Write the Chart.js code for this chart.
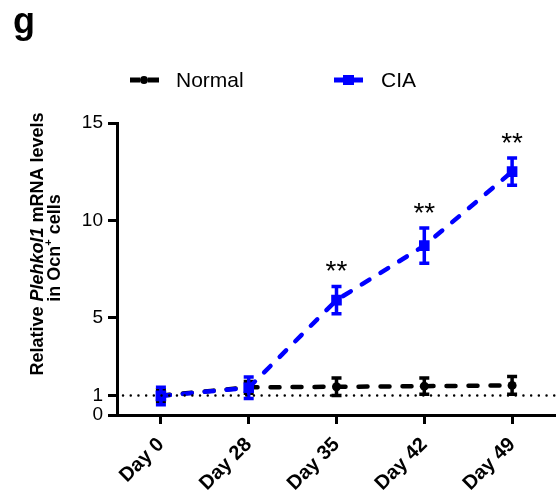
<!DOCTYPE html>
<html><head><meta charset="utf-8">
<script src="https://cdn.jsdelivr.net/npm/chart.js@4"></script>
<style>html,body{margin:0;padding:0;background:#fff}</style>
</head><body>
<div style="width:556px;height:503px"><canvas id="c" width="556" height="503"></canvas></div>
<script>
const categories = ['Day 0', 'Day 28', 'Day 35', 'Day 42', 'Day 49'];
const normalMean = [1.0, 1.42, 1.45, 1.48, 1.52];
const normalErr = [0.3, 0.3, 0.45, 0.42, 0.46];
const ciaMean = [0.98, 1.4, 5.9, 8.7, 12.5];
const ciaErr = [0.45, 0.55, 0.7, 0.9, 0.7];
const ciaStars = ['', '', '**', '**', '**'];
const yTicks = [0, 1, 5, 10, 15];
const referenceLevel = 1;
const panelLetter = 'g';
const seriesNames = ['Normal', 'CIA'];

const FONT = '"Liberation Sans", Arial, sans-serif';
const errData = [normalErr, ciaErr];
const meanData = [normalMean, ciaMean];

const extrasPlugin = {
  id: 'extras',
  afterLayout(chart) {
    // let the x axis run to the right edge of the canvas
    const xs = chart.scales.x;
    const right = chart.width;
    xs.right = right;
    xs.width = right - xs.left;
    chart.chartArea.right = right;
    chart.chartArea.width = right - chart.chartArea.left;
    xs.configure();
  },
  afterDatasetDraw(chart, args) {
    const ctx = chart.ctx;
    const ys = chart.scales.y;
    const meta = args.meta;
    const i = args.index;
    const color = chart.data.datasets[i].borderColor;
    ctx.save();
    ctx.strokeStyle = color;
    ctx.lineWidth = 3.5;
    meta.data.forEach((pt, k) => {
      const m = meanData[i][k], e = errData[i][k];
      const yt = ys.getPixelForValue(m + e), yb = ys.getPixelForValue(m - e);
      ctx.beginPath();
      ctx.moveTo(pt.x, yt); ctx.lineTo(pt.x, yb);
      ctx.moveTo(pt.x - 5, yt); ctx.lineTo(pt.x + 5, yt);
      ctx.moveTo(pt.x - 5, yb); ctx.lineTo(pt.x + 5, yb);
      ctx.stroke();
    });
    ctx.restore();
  },
  afterDatasetsDraw(chart) {
    const ctx = chart.ctx;
    const ys = chart.scales.y;
    const area = chart.chartArea;
    // dotted reference line
    ctx.save();
    ctx.strokeStyle = '#000';
    ctx.lineWidth = 2.4;
    ctx.lineCap = 'round';
    ctx.setLineDash([0.1, 7.6]);
    const yr = ys.getPixelForValue(referenceLevel);
    ctx.beginPath();
    ctx.moveTo(area.left + 6, yr);
    ctx.lineTo(chart.width, yr);
    ctx.stroke();
    ctx.restore();
    // significance stars
    const meta = chart.getDatasetMeta(1);
    ctx.save();
    ctx.fillStyle = '#000';
    ctx.font = '28px ' + FONT;
    ctx.textAlign = 'center';
    ctx.textBaseline = 'middle';
    meta.data.forEach((pt, k) => {
      if (!ciaStars[k]) return;
      const yt = ys.getPixelForValue(ciaMean[k] + ciaErr[k]);
      ctx.fillText(ciaStars[k], pt.x, yt - 14);
    });
    ctx.restore();
  },
  afterDraw(chart) {
    const ctx = chart.ctx;
    ctx.save();
    // panel letter
    ctx.fillStyle = '#000';
    ctx.font = 'bold 36px ' + FONT;
    ctx.textAlign = 'left';
    ctx.textBaseline = 'alphabetic';
    ctx.fillText(panelLetter, 13, 33);
    // legend
    const items = [
      {x: 130, textX: 176, ds: chart.data.datasets[0]},
      {x: 334, textX: 381, ds: chart.data.datasets[1]}
    ];
    const ly = 80;
    items.forEach(it => {
      const c = it.ds.borderColor;
      ctx.strokeStyle = c; ctx.fillStyle = c;
      ctx.lineWidth = 5;
      ctx.lineCap = 'butt';
      ctx.beginPath();
      ctx.moveTo(it.x, ly); ctx.lineTo(it.x + 10, ly);
      ctx.moveTo(it.x + 18, ly); ctx.lineTo(it.x + 29, ly);
      ctx.stroke();
      ctx.beginPath();
      if (it.ds.pointStyle === 'rect') {
        ctx.rect(it.x + 9, ly - 5, 11, 10);
      } else {
        ctx.arc(it.x + 14, ly, 4, 0, Math.PI * 2);
      }
      ctx.fill();
      ctx.fillStyle = '#000';
      ctx.font = '21px ' + FONT;
      ctx.textBaseline = 'middle';
      ctx.fillText(it.ds.label, it.textX, ly + 1);
    });
    // y-axis title
    const lines = [
      {base: 43, cy: 244, parts: [
        {t: 'Relative ', f: 'bold 18px ' + FONT},
        {t: 'Plehkol1', f: 'italic bold 18px ' + FONT},
        {t: ' mRNA levels', f: 'bold 18px ' + FONT}]},
      {base: 60, cy: 248, parts: [
        {t: 'in Ocn', f: 'bold 18px ' + FONT},
        {t: '+', f: 'bold 11px ' + FONT, dy: -8},
        {t: ' cells', f: 'bold 18px ' + FONT}]}
    ];
    ctx.fillStyle = '#000';
    ctx.textBaseline = 'alphabetic';
    lines.forEach(L => {
      let total = 0;
      L.parts.forEach(p => { ctx.font = p.f; p.w = ctx.measureText(p.t).width; total += p.w; });
      ctx.save();
      ctx.translate(L.base, L.cy);
      ctx.rotate(-Math.PI / 2);
      let x = -total / 2;
      L.parts.forEach(p => { ctx.font = p.f; ctx.fillText(p.t, x, p.dy || 0); x += p.w; });
      ctx.restore();
    });
    ctx.restore();
  }
};

new Chart(document.getElementById('c'), {
  type: 'line',
  data: {
    labels: categories,
    datasets: [
      {
        label: seriesNames[0], data: normalMean, order: 1,
        borderColor: '#000000', backgroundColor: '#000000',
        borderWidth: 4.5, borderDash: [9, 13], borderCapStyle: 'round',
        pointStyle: 'circle', pointRadius: 4.5, pointBorderWidth: 0,
        tension: 0
      },
      {
        label: seriesNames[1], data: ciaMean, order: 0,
        borderColor: '#0000ff', backgroundColor: '#0000ff',
        borderWidth: 4.5, borderDash: [9, 13], borderCapStyle: 'round',
        pointStyle: 'rect', pointRadius: 7.5, pointBorderWidth: 0,
        tension: 0
      }
    ]
  },
  options: {
    responsive: false,
    animation: false,
    layout: {padding: {top: 123, right: 0, bottom: 0, left: 0}},
    plugins: {legend: {display: false}, tooltip: {enabled: false}, title: {display: false}},
    scales: {
      x: {
        type: 'category',
        offset: true,
        afterFit(s) { s.height = 88; },
        grid: {drawOnChartArea: false, drawTicks: true, tickLength: 9, tickWidth: 3, tickColor: '#000', offset: false},
        border: {display: true, width: 3, color: '#000'},
        ticks: {color: '#000', font: {family: FONT, size: 20, weight: 'bold'}, minRotation: 45, maxRotation: 45, padding: 9, autoSkip: false}
      },
      y: {
        min: 0, max: 15,
        afterFit(s) { s.width = 117; },
        afterBuildTicks(s) { s.ticks = yTicks.map(v => ({value: v})); },
        grid: {drawOnChartArea: false, drawTicks: true, tickLength: 9, tickWidth: 3, tickColor: '#000'},
        border: {display: true, width: 3, color: '#000'},
        ticks: {color: '#000', font: {family: FONT, size: 19}, padding: 5}
      }
    }
  },
  plugins: [extrasPlugin]
});
</script>
</body></html>
